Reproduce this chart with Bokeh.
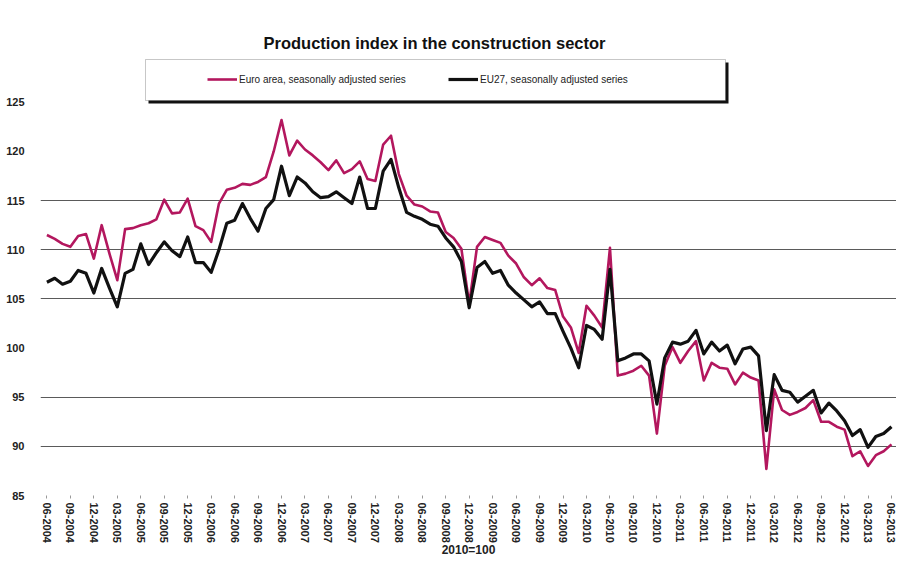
from bokeh.plotting import figure
from bokeh.models import Range1d, FixedTicker, BoxAnnotation, Legend, LegendItem, Label
from bokeh.embed import file_html
from bokeh.resources import INLINE

# ---- data (2010=100), monthly 06-2004 .. 06-2013 ----
tick_labels = ["06-2004", "09-2004", "12-2004", "03-2005", "06-2005", "09-2005", "12-2005",
               "03-2006", "06-2006", "09-2006", "12-2006", "03-2007", "06-2007", "09-2007",
               "12-2007", "03-2008", "06-2008", "09-2008", "12-2008", "03-2009", "06-2009",
               "09-2009", "12-2009", "03-2010", "06-2010", "09-2010", "12-2010", "03-2011",
               "06-2011", "09-2011", "12-2011", "03-2012", "06-2012", "09-2012", "12-2012",
               "03-2013", "06-2013"]

euro_area = [111.5, 111.1, 110.6, 110.3, 111.4, 111.6, 109.1, 112.5, 109.6, 106.9,
             112.1, 112.2, 112.5, 112.7, 113.1, 115.1, 113.7, 113.8, 115.2, 112.4,
             112.0, 110.8, 114.7, 116.1, 116.3, 116.7, 116.6, 116.9, 117.4, 120.0,
             123.2, 119.6, 121.1, 120.2, 119.6, 118.9, 118.1, 119.1, 117.8, 118.2,
             119.0, 117.2, 117.0, 120.7, 121.6, 117.7, 115.5, 114.6, 114.4, 113.9,
             113.8, 111.8, 111.2, 110.1, 104.5, 110.3, 111.3, 111.0, 110.7, 109.4,
             108.6, 107.2, 106.4, 107.1, 106.1, 105.9, 103.2, 102.1, 99.5, 104.3,
             103.3, 102.1, 110.2, 97.2, 97.4, 97.7, 98.2, 97.2, 91.3, 98.2,
             100.1, 98.5, 99.7, 100.7, 96.7, 98.5, 98.0, 97.9, 96.3, 97.5,
             97.0, 96.7, 87.7, 95.8, 93.7, 93.2, 93.5, 93.9, 94.7, 92.5,
             92.5, 92.0, 91.7, 89.0, 89.5, 88.0, 89.1, 89.5, 90.2]

eu27 = [106.7, 107.1, 106.5, 106.8, 107.9, 107.6, 105.6, 108.1, 106.1, 104.2,
        107.6, 108.0, 110.6, 108.5, 109.7, 110.8, 109.9, 109.3, 111.3, 108.7,
        108.7, 107.7, 110.0, 112.7, 113.0, 114.7, 113.2, 111.9, 114.2, 115.1,
        118.5, 115.5, 117.4, 116.8, 115.9, 115.3, 115.4, 115.9, 115.3, 114.7,
        117.4, 114.2, 114.2, 118.0, 119.2, 116.3, 113.8, 113.4, 113.1, 112.6,
        112.4, 111.2, 110.3, 108.8, 104.1, 108.2, 108.8, 107.6, 107.9, 106.4,
        105.6, 104.9, 104.2, 104.7, 103.5, 103.5, 101.7, 100.0, 98.0, 102.3,
        101.9, 100.9, 108.0, 98.7, 99.0, 99.4, 99.4, 98.7, 94.3, 99.0,
        100.6, 100.4, 100.7, 101.8, 99.4, 100.6, 99.7, 100.3, 98.4, 99.9,
        100.1, 99.2, 91.6, 97.3, 95.7, 95.5, 94.5, 95.1, 95.7, 93.4,
        94.4, 93.6, 92.6, 91.1, 91.7, 89.9, 91.0, 91.3, 92.0]

y_ticks = [85, 90, 95, 100, 105, 110, 115, 120, 125]
grid_levels = [90, 95, 105, 110, 115]

title_text = "Production index in the construction sector"
name_ea = "Euro area, seasonally adjusted series"
name_eu = "EU27, seasonally adjusted series"
base_text = "2010=100"

x = list(range(len(euro_area)))
tick_pos = list(range(0, len(euro_area), 3))

MAGENTA = "#B3175E"
FONT = "Liberation Sans"

B = 496  # y (from top) of the plotting frame's bottom edge

p = figure(width=896, height=559, output_backend="svg", toolbar_location=None,
           x_range=Range1d(-0.82, 108.64), y_range=Range1d(85, 135.36),
           min_border_top=0, min_border_left=40, min_border_right=0, min_border_bottom=63,
           outline_line_color=None, background_fill_color="white",
           border_fill_color="white")

l_ea = p.line(x, euro_area, line_color=MAGENTA, line_width=2.6, line_join="round")
l_eu = p.line(x, eu27, line_color="#111111", line_width=3.2, line_join="round")

# axes
p.yaxis.ticker = FixedTicker(ticks=y_ticks)
p.yaxis.axis_line_color = None
p.yaxis.major_tick_line_color = None
p.yaxis.minor_tick_line_color = None
p.yaxis.major_label_standoff = 10
p.yaxis.major_label_text_font = FONT
p.yaxis.major_label_text_font_style = "bold"
p.yaxis.major_label_text_font_size = "11px"
p.yaxis.major_label_text_color = "#222222"

p.xaxis.ticker = FixedTicker(ticks=tick_pos)
p.xaxis.major_label_overrides = {t: lab for t, lab in zip(tick_pos, tick_labels)}
p.xaxis.major_label_orientation = "vertical"
p.xaxis.axis_line_color = None
p.xaxis.major_tick_in = 0
p.xaxis.major_tick_out = 3
p.xaxis.major_tick_line_color = "#999999"
p.xaxis.minor_tick_line_color = None
p.xaxis.major_label_standoff = 4
p.xaxis.major_label_text_font = FONT
p.xaxis.major_label_text_font_style = "bold"
p.xaxis.major_label_text_font_size = "11px"
p.xaxis.major_label_text_color = "#222222"
p.xaxis.axis_label = base_text
p.xaxis.axis_label_standoff = -3
p.xaxis.axis_label_text_font = FONT
p.xaxis.axis_label_text_font_style = "bold"
p.xaxis.axis_label_text_font_size = "12px"
p.xaxis.axis_label_text_color = "#222222"

p.xgrid.grid_line_color = None
p.ygrid.ticker = FixedTicker(ticks=grid_levels)
p.ygrid.grid_line_color = "#5a5a5a"
p.ygrid.grid_line_width = 1.2

# title
p.add_layout(Label(x=394, y=B - 43, x_units="screen", y_units="screen", text=title_text,
                   text_align="center", text_baseline="middle", text_font=FONT,
                   text_font_style="bold", text_font_size="16.5px", text_color="#111111"))

# legend box with shadow
p.add_layout(BoxAnnotation(left=108, right=688, bottom=B - 104, top=B - 63,
                           left_units="screen", right_units="screen",
                           bottom_units="screen", top_units="screen",
                           fill_color="#111111", fill_alpha=1, line_color=None))
p.add_layout(BoxAnnotation(left=105, right=685, bottom=B - 101, top=B - 60,
                           left_units="screen", right_units="screen",
                           bottom_units="screen", top_units="screen",
                           fill_color="white", fill_alpha=1, line_color="#444444",
                           line_width=1))

for item_name, rend, lx in [(name_ea, l_ea, 167), (name_eu, l_eu, 408)]:
    lg = Legend(items=[LegendItem(label=item_name, renderers=[rend])],
                location=(lx, B - 90), orientation="horizontal",
                padding=0, margin=0, spacing=0, glyph_width=30, glyph_height=20,
                label_standoff=2, label_height=20,
                label_text_font=FONT, label_text_font_size="10px",
                label_text_color="#222222",
                border_line_color=None, background_fill_alpha=0)
    p.add_layout(lg, "center")

open("out.html", "w").write(file_html(p, INLINE))
